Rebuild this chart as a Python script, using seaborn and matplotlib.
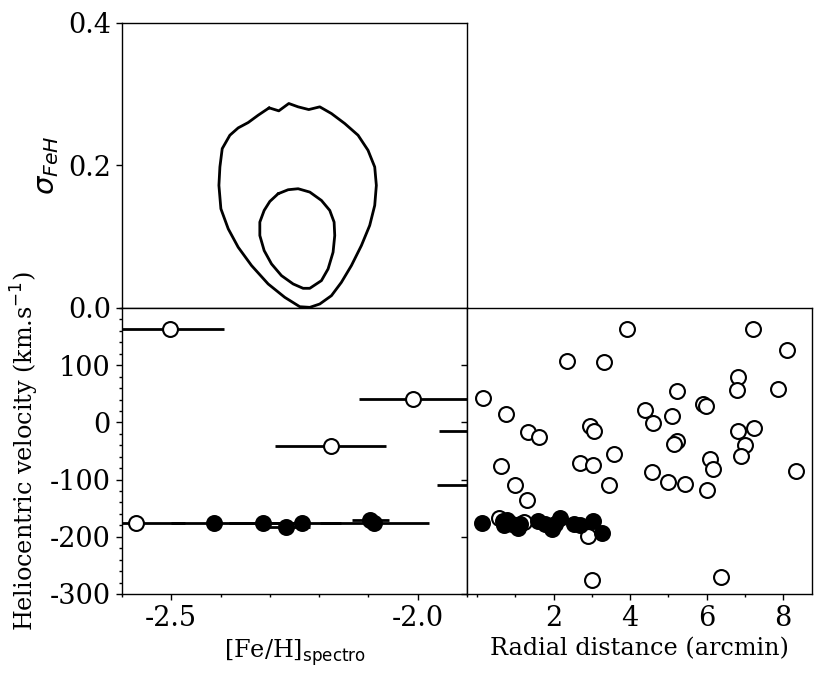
import numpy as np
import pandas as pd
import matplotlib
matplotlib.use("Agg")
import matplotlib.pyplot as plt
from matplotlib.ticker import MultipleLocator, FixedLocator
import seaborn as sns

# --- contour levels in the ([Fe/H], sigma_FeH) plane ---
outer_feh = [-2.3015, -2.2819, -2.2616, -2.2427, -2.2211, -2.1988, -2.1751, -2.1481,
             -2.1211, -2.1009, -2.0873, -2.0840, -2.0873, -2.0975, -2.1143, -2.1346,
             -2.1549, -2.1751, -2.1988, -2.2190, -2.2393, -2.2697, -2.3035, -2.3372,
             -2.3643, -2.3845, -2.3994, -2.4034, -2.4014, -2.3967, -2.3812, -2.3643,
             -2.3440, -2.3237, -2.3015]
outer_sig = [0.2806, 0.2764, 0.2867, 0.2820, 0.2782, 0.2820, 0.2726, 0.2586,
             0.2422, 0.2211, 0.1977, 0.1719, 0.1438, 0.1157, 0.0876, 0.0595,
             0.0360, 0.0173, 0.0056, 0.0009, 0.0018, 0.0149, 0.0337, 0.0595,
             0.0852, 0.1110, 0.1391, 0.1719, 0.1977, 0.2234, 0.2422, 0.2525,
             0.2600, 0.2703, 0.2806]
inner_feh = [-2.2832, -2.2630, -2.2427, -2.2190, -2.1954, -2.1785, -2.1697, -2.1684,
             -2.1718, -2.1819, -2.1954, -2.2190, -2.2326, -2.2528, -2.2765, -2.2967,
             -2.3116, -2.3204, -2.3204, -2.3116, -2.3001, -2.2832]
inner_sig = [0.1602, 0.1658, 0.1672, 0.1625, 0.1508, 0.1368, 0.1204, 0.1016,
             0.0782, 0.0548, 0.0384, 0.0276, 0.0276, 0.0337, 0.0454, 0.0618,
             0.0805, 0.1016, 0.1204, 0.1368, 0.1494, 0.1602]

# --- velocity vs [Fe/H] ---
feh_nonmem = [-2.503, -2.010, -2.177, -2.572, -1.846, -1.850]
feh_nonmem_err = [0.11, 0.11, 0.113, 0.10, 0.11, 0.11]
vel_nonmem_feh = [163, 41, -41.5, -176, -15, -110]

feh_mem = [-2.414, -2.313, -2.268, -2.235, -2.096, -2.088]
feh_mem_err = [0.086, 0.07, 0.05, 0.08, 0.038, 0.11]
vel_mem_feh = [-176.6, -176, -183.6, -176.6, -170, -176.6]

# --- velocity vs radial distance ---
rad_nonmem = [0.16, 0.76, 1.33, 1.63, 0.63, 1.00, 1.30, 2.35, 3.32, 3.91,
              2.96, 3.06, 2.68, 3.04, 3.58, 3.46, 0.57, 1.22, 2.91, 3.00,
              4.39, 4.61, 5.22, 5.10, 5.24, 5.16, 4.57, 4.98, 5.43, 5.91,
              5.98, 6.10, 6.17, 6.02, 6.81, 6.80, 6.81, 7.25, 7.00, 6.91,
              7.22, 8.11, 7.87, 8.33, 6.37]
vel_nonmem = [42, 14, -17.5, -25.7, -76, -110, -135, 108, 106, 163.5,
              -6.4, -15, -71, -75, -55, -108.6, -167, -175, -198, -276,
              21.6, -1.8, 55.5, 11, -32, -37, -86, -104, -107, 31.5,
              28.6, -64, -82, -118, 79, 56, -15, -10.5, -40, -59,
              163.5, 126.7, 57.8, -85, -270]

rad_mem = [0.13, 0.68, 0.78, 0.70, 0.91, 1.06, 1.13, 1.59, 1.78, 1.96,
           2.04, 2.17, 2.54, 2.70, 3.04, 3.26]
vel_mem = [-176, -173, -171, -179, -178, -185, -177, -173, -177, -186.6,
           -177, -167, -178, -179, -173, -193.6]

sns.set_style("ticks")
plt.rcParams['font.family'] = ['DejaVu Serif']
plt.rcParams['mathtext.fontset'] = 'dejavusans'
plt.rcParams['axes.unicode_minus'] = False
plt.rcParams['axes.edgecolor'] = 'black'
plt.rcParams['axes.labelcolor'] = 'black'
plt.rcParams['text.color'] = 'black'
plt.rcParams['xtick.color'] = 'black'
plt.rcParams['ytick.color'] = 'black'

tick_fs = 19.5
label_fs = 17.2

fig = plt.figure(figsize=(8.3, 6.79), dpi=100)
ax_top = fig.add_axes([0.147, 0.5464, 0.4157, 0.4202])
ax_feh = fig.add_axes([0.147, 0.1252, 0.4157, 0.4212])
ax_rad = fig.add_axes([0.5627, 0.1252, 0.4153, 0.4212])

# top: contours
sns.lineplot(x=outer_feh, y=outer_sig, sort=False, estimator=None, color='black',
             linewidth=2, ax=ax_top)
sns.lineplot(x=inner_feh, y=inner_sig, sort=False, estimator=None, color='black',
             linewidth=2, ax=ax_top)
ax_top.set_xlim(-2.6, -1.9)
ax_top.set_ylim(0, 0.4)
ax_top.set_xticks([-2.4, -2.2, -2.0])
ax_top.set_xticklabels([])
ax_top.set_yticks([0.0, 0.2, 0.4])
ax_top.set_yticklabels(['0.0', '0.2', '0.4'])
ax_top.set_ylabel(r'$\sigma_{FeH}$', fontsize=21, labelpad=5)

# bottom left: velocity vs [Fe/H]
ax_feh.errorbar(feh_nonmem, vel_nonmem_feh, xerr=feh_nonmem_err, fmt='none',
                ecolor='black', elinewidth=2, capsize=0, zorder=2)
ax_feh.errorbar(feh_mem, vel_mem_feh, xerr=feh_mem_err, fmt='none',
                ecolor='black', elinewidth=2, capsize=0, zorder=2)
sns.scatterplot(x=feh_nonmem, y=vel_nonmem_feh, s=115, color='white',
                edgecolor='black', linewidth=1.5, zorder=3, ax=ax_feh)
sns.scatterplot(x=feh_mem, y=vel_mem_feh, s=115, color='black',
                edgecolor='black', linewidth=1.5, zorder=3, ax=ax_feh)
ax_feh.set_xlim(-2.6, -1.9)
ax_feh.set_ylim(-300, 200)
ax_feh.set_xticks([-2.5, -2.0])
ax_feh.set_xticklabels(['-2.5', '-2.0'])
ax_feh.xaxis.set_minor_locator(MultipleLocator(0.1))
ax_feh.set_yticks([-300, -200, -100, 0, 100])
ax_feh.set_yticklabels(['-300', '-200', '-100', '0', '100'])
ax_feh.yaxis.set_minor_locator(MultipleLocator(20))
ax_feh.set_xlabel(r'[Fe/H]$_{\mathrm{spectro}}$', fontsize=label_fs)
ax_feh.set_ylabel(r'Heliocentric velocity (km.s$^{-1}$)', fontsize=label_fs, labelpad=6)

# bottom right: velocity vs radial distance
sns.scatterplot(x=rad_nonmem, y=vel_nonmem, s=115, color='white',
                edgecolor='black', linewidth=1.5, zorder=3, ax=ax_rad)
sns.scatterplot(x=rad_mem, y=vel_mem, s=115, color='black',
                edgecolor='black', linewidth=1.5, zorder=3, ax=ax_rad)
ax_rad.set_xlim(-0.26, 8.75)
ax_rad.set_ylim(-300, 200)
ax_rad.set_xticks([2, 4, 6, 8])
ax_rad.set_xticklabels(['2', '4', '6', '8'])
ax_rad.xaxis.set_minor_locator(FixedLocator([0, 1, 3, 5, 7]))
ax_rad.set_yticks([-300, -200, -100, 0, 100])
ax_rad.set_yticklabels([])
ax_rad.set_xlabel('Radial distance (arcmin)', fontsize=label_fs)

for ax in (ax_top, ax_feh, ax_rad):
    ax.tick_params(which='major', direction='out', length=4.5, width=1,
                   labelsize=tick_fs)
    ax.tick_params(which='minor', direction='out', length=2.5, width=1)
    for sp in ax.spines.values():
        sp.set_visible(True)
        sp.set_linewidth(1)

fig.savefig("out.png", dpi=100)
